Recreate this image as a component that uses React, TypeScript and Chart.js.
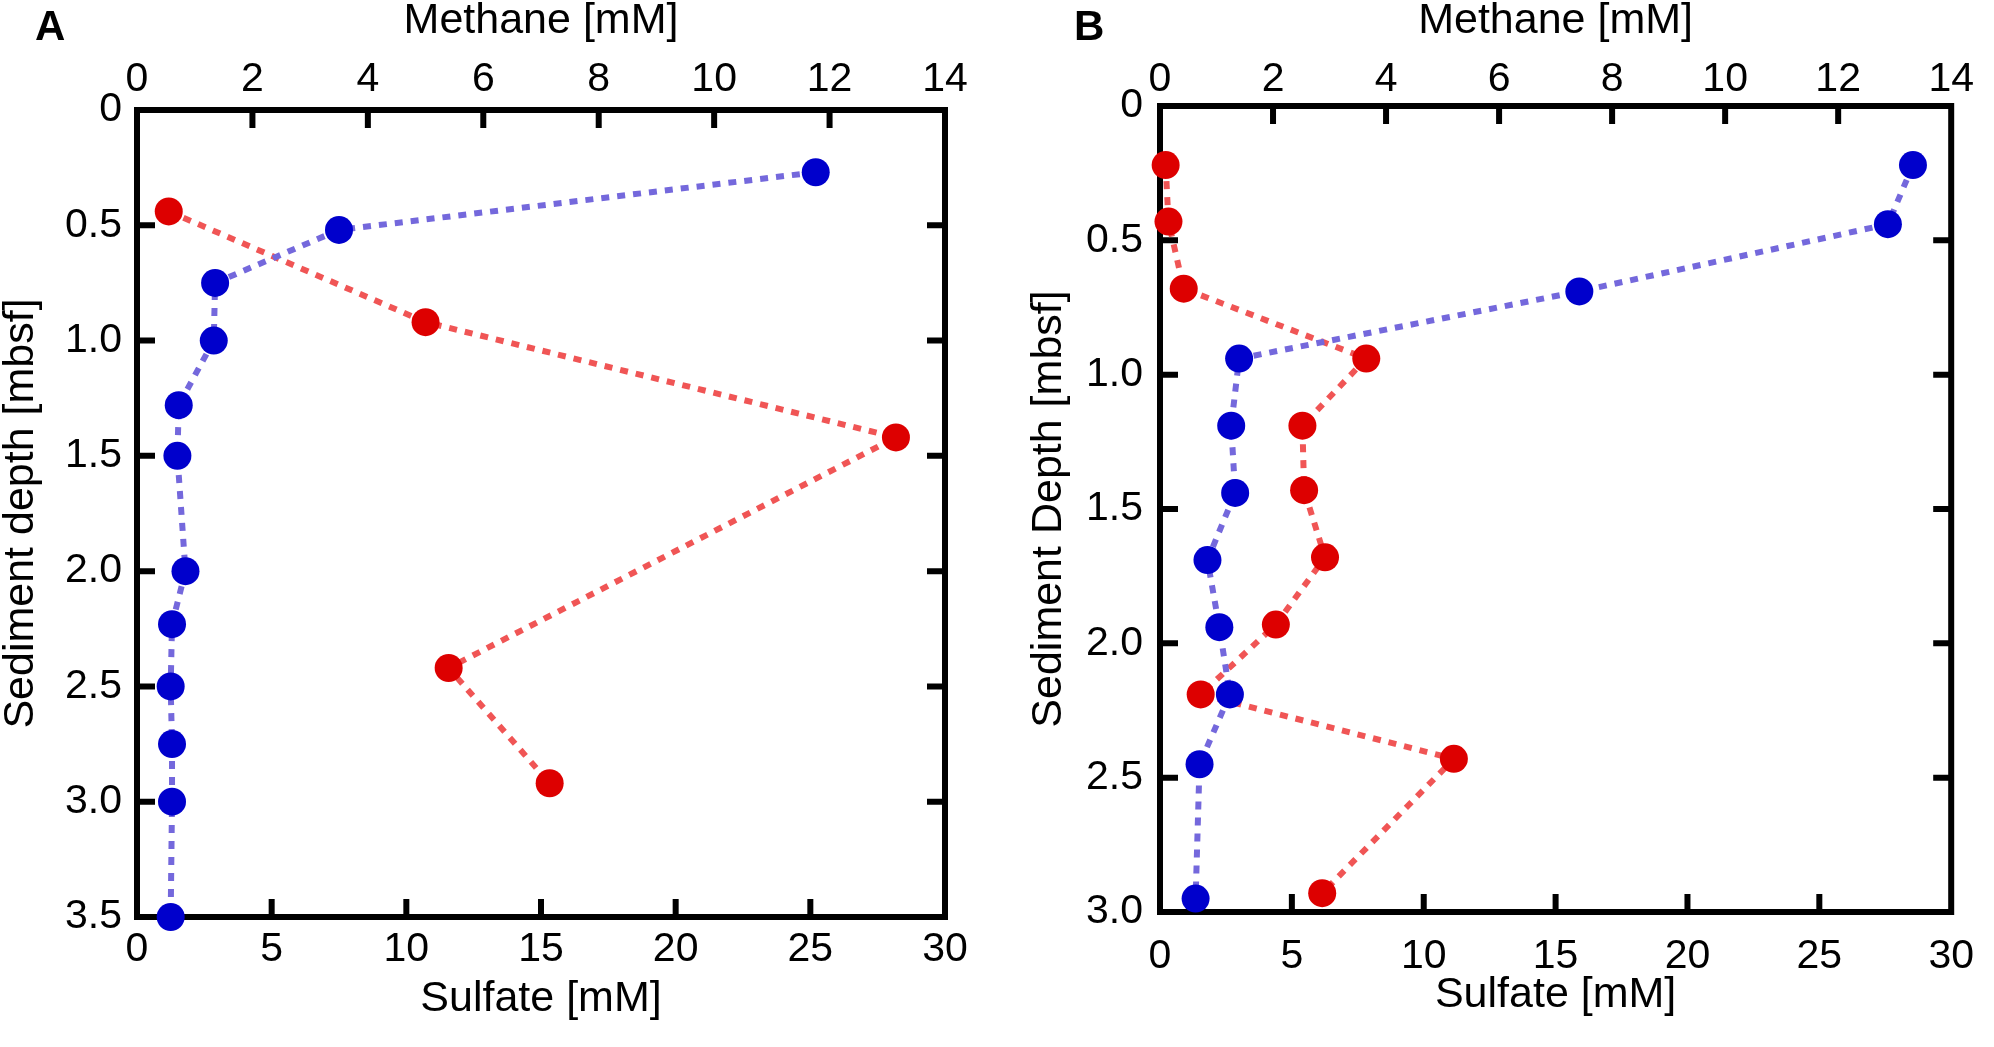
import { useEffect, useRef } from 'react';
import { Chart, registerables } from 'chart.js';

Chart.register(...registerables);

// Panel A: sulfate (bottom axis) and methane (top axis) against depth
const sulfateDepthA = [0.27, 0.52, 0.75, 1.0, 1.28, 1.5, 2.0, 2.23, 2.5, 2.75, 3.0, 3.5];
const sulfateA = [25.2, 7.5, 2.9, 2.85, 1.55, 1.5, 1.8, 1.3, 1.25, 1.3, 1.3, 1.25];
const methaneDepthA = [0.44, 0.92, 1.42, 2.42, 2.92];
const methaneA = [0.55, 5.0, 13.15, 5.4, 7.15];

// Panel B
const sulfateDepthB = [0.22, 0.44, 0.69, 0.94, 1.19, 1.44, 1.69, 1.94, 2.19, 2.45, 2.95];
const sulfateB = [28.55, 27.6, 15.9, 3.0, 2.7, 2.85, 1.8, 2.25, 2.65, 1.5, 1.35];
const methaneDepthB = [0.22, 0.43, 0.68, 0.94, 1.19, 1.43, 1.68, 1.93, 2.19, 2.43, 2.93];
const methaneB = [0.1, 0.15, 0.42, 3.65, 2.52, 2.55, 2.92, 2.05, 0.72, 5.2, 2.87];

// Axis ranges / tick steps
const methaneRange = [0, 14];
const methaneStep = 2;
const sulfateRange = [0, 30];
const sulfateStep = 5;
const depthStep = 0.5;

const FONT = 'Arial, "Liberation Sans", Helvetica, sans-serif';
const SULFATE_POINT = '#0000cc';
const SULFATE_LINE = '#7468dc';
const METHANE_POINT = '#dd0000';
const METHANE_LINE = '#f05555';

interface PanelLayout {
  left: number;
  width: number;
  height: number;
  plotLeft: number;
  plotRight: number;
  plotTop: number;
  plotBottom: number;
  topTickPad: number;
  bottomTickPad: number;
  leftTickPad: number;
  bottomTitlePad: number;
  leftTitlePad: number;
}

interface PanelProps {
  label: string;
  labelLeft: number;
  depthTitle: string;
  depthMax: number;
  sulfateDepth: number[];
  sulfate: number[];
  methaneDepth: number[];
  methane: number[];
  layout: PanelLayout;
}

const layoutA: PanelLayout = {
  left: 0, width: 997, height: 1047,
  plotLeft: 137, plotRight: 945, plotTop: 110, plotBottom: 917,
  topTickPad: 6, bottomTickPad: 8, leftTickPad: 15, bottomTitlePad: 26, leftTitlePad: 0,
};

const layoutB: PanelLayout = {
  left: 997, width: 997, height: 1047,
  plotLeft: 163, plotRight: 970, plotTop: 106, plotBottom: 912,
  topTickPad: 2, bottomTickPad: 20, leftTickPad: 17, bottomTitlePad: 30, leftTitlePad: 31,
};

const innerTicks = {
  id: 'innerTicks',
  beforeDatasetsDraw(chart: any) {
    const { ctx, chartArea: a, scales } = chart;
    const len = 18;
    const inner = (s: any) => s.ticks.map((t: any) => t.value).filter((v: number) => v > s.min && v < s.max);
    ctx.save();
    ctx.strokeStyle = '#000';
    ctx.lineWidth = 6;
    ctx.beginPath();
    for (const v of inner(scales.xS)) {
      const x = scales.xS.getPixelForValue(v);
      ctx.moveTo(x, a.bottom);
      ctx.lineTo(x, a.bottom - len);
    }
    for (const v of inner(scales.xM)) {
      const x = scales.xM.getPixelForValue(v);
      ctx.moveTo(x, a.top);
      ctx.lineTo(x, a.top + len);
    }
    for (const v of inner(scales.y)) {
      const y = scales.y.getPixelForValue(v);
      ctx.moveTo(a.left, y);
      ctx.lineTo(a.left + len, y);
      ctx.moveTo(a.right, y);
      ctx.lineTo(a.right - len, y);
    }
    ctx.stroke();
    ctx.strokeRect(a.left, a.top, a.right - a.left, a.bottom - a.top);
    ctx.restore();
  },
};

function DepthPanel({ label, labelLeft, depthTitle, depthMax, sulfateDepth, sulfate, methaneDepth, methane, layout }: PanelProps) {
  const canvasRef = useRef<HTMLCanvasElement>(null);
  const chartRef = useRef<Chart | null>(null);

  useEffect(() => {
    if (!canvasRef.current) return;
    if (chartRef.current) chartRef.current.destroy();
    const ctx = canvasRef.current.getContext('2d');
    if (!ctx) return;

    const tickFont = { family: FONT, size: 41 };
    const titleFont = { family: FONT, size: 43, lineHeight: 1 };

    const series = (color: string, fill: string) => ({
      showLine: true,
      borderColor: color,
      borderWidth: 6,
      borderDash: [8, 8],
      pointRadius: 14,
      pointHoverRadius: 14,
      pointBorderWidth: 0,
      pointBackgroundColor: fill,
      clip: false,
    });

    chartRef.current = new Chart(ctx, {
      type: 'scatter',
      data: {
        datasets: [
          {
            label: 'Sulfate',
            data: sulfate.map((v, i) => ({ x: v, y: sulfateDepth[i] })),
            xAxisID: 'xS',
            yAxisID: 'y',
            ...series(SULFATE_LINE, SULFATE_POINT),
          },
          {
            label: 'Methane',
            data: methane.map((v, i) => ({ x: v, y: methaneDepth[i] })),
            xAxisID: 'xM',
            yAxisID: 'y',
            ...series(METHANE_LINE, METHANE_POINT),
          },
        ],
      },
      options: {
        responsive: true,
        maintainAspectRatio: false,
        animation: false,
        events: [],
        layout: { padding: 0, autoPadding: false },
        plugins: {
          legend: { display: false },
          tooltip: { enabled: false },
        },
        scales: {
          xS: {
            type: 'linear',
            position: 'bottom',
            min: sulfateRange[0],
            max: sulfateRange[1],
            grid: { display: false, drawTicks: false },
            border: { display: false },
            ticks: { stepSize: sulfateStep, font: tickFont, color: '#000', padding: layout.bottomTickPad, maxRotation: 0 },
            title: { display: true, text: 'Sulfate [mM]', font: titleFont, color: '#000', padding: { top: 0, bottom: layout.bottomTitlePad } },
            afterFit: (s: any) => { s.height = layout.height - layout.plotBottom; },
          },
          xM: {
            type: 'linear',
            position: 'top',
            min: methaneRange[0],
            max: methaneRange[1],
            grid: { display: false, drawTicks: false },
            border: { display: false },
            ticks: { stepSize: methaneStep, font: tickFont, color: '#000', padding: layout.topTickPad, maxRotation: 0 },
            title: { display: true, text: 'Methane [mM]', font: titleFont, color: '#000', padding: { top: 0, bottom: 0 } },
            afterFit: (s: any) => { s.height = layout.plotTop; },
          },
          y: {
            type: 'linear',
            position: 'left',
            reverse: true,
            min: 0,
            max: depthMax,
            grid: { display: false, drawTicks: false },
            border: { display: false },
            ticks: {
              stepSize: depthStep,
              font: tickFont,
              color: '#000',
              padding: layout.leftTickPad,
              callback: (v: any) => (Number(v) === 0 ? '0' : Number(v).toFixed(1)),
            },
            title: { display: true, text: depthTitle, font: titleFont, color: '#000', padding: { top: layout.leftTitlePad, bottom: 0 } },
            afterFit: (s: any) => { s.width = layout.plotLeft; },
          },
          yR: {
            type: 'linear',
            position: 'right',
            reverse: true,
            min: 0,
            max: depthMax,
            grid: { display: false, drawTicks: false },
            border: { display: false },
            ticks: { display: false },
            afterFit: (s: any) => { s.width = layout.width - layout.plotRight; },
          },
        },
      },
      plugins: [innerTicks],
    } as any);

    return () => {
      if (chartRef.current) {
        chartRef.current.destroy();
        chartRef.current = null;
      }
    };
  }, [depthMax, depthTitle, sulfate, sulfateDepth, methane, methaneDepth, layout]);

  return (
    <div style={{ position: 'absolute', left: layout.left, top: 0, width: layout.width, height: layout.height }}>
      <canvas ref={canvasRef} />
      <div
        style={{
          position: 'absolute',
          left: labelLeft,
          top: 5,
          fontFamily: FONT,
          fontWeight: 'bold',
          fontSize: 42,
          lineHeight: '42px',
          color: '#000',
        }}
      >
        {label}
      </div>
    </div>
  );
}

export default function App() {
  return (
    <div style={{ position: 'absolute', left: 0, top: 0, width: 1994, height: 1047, background: '#fff', overflow: 'hidden' }}>
      <DepthPanel
        label="A"
        labelLeft={35}
        depthTitle="Sediment depth [mbsf]"
        depthMax={3.5}
        sulfateDepth={sulfateDepthA}
        sulfate={sulfateA}
        methaneDepth={methaneDepthA}
        methane={methaneA}
        layout={layoutA}
      />
      <DepthPanel
        label="B"
        labelLeft={77}
        depthTitle="Sediment Depth [mbsf]"
        depthMax={3.0}
        sulfateDepth={sulfateDepthB}
        sulfate={sulfateB}
        methaneDepth={methaneDepthB}
        methane={methaneB}
        layout={layoutB}
      />
    </div>
  );
}
